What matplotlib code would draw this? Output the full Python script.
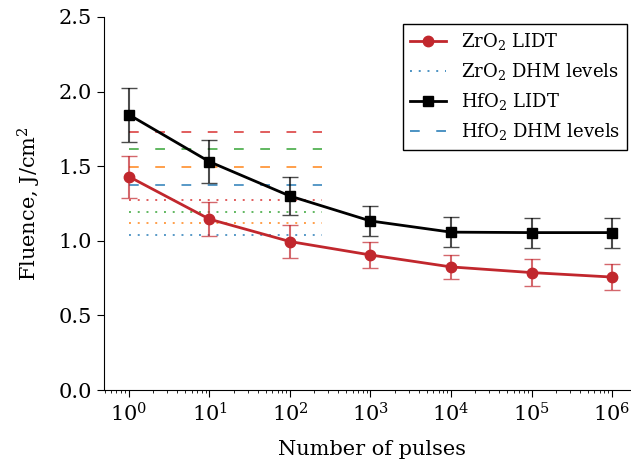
import numpy as np
import matplotlib
matplotlib.use("Agg")
import matplotlib.pyplot as plt

# --- Data ---
pulses = [1, 10, 100, 1000, 1e4, 1e5, 1e6]

zro2_lidt = [1.43, 1.145, 0.995, 0.905, 0.825, 0.787, 0.757]
zro2_err = [0.14, 0.115, 0.11, 0.09, 0.08, 0.09, 0.09]

hfo2_lidt = [1.845, 1.530, 1.300, 1.133, 1.058, 1.055, 1.055]
hfo2_err = [0.18, 0.145, 0.13, 0.10, 0.10, 0.10, 0.10]

# DHM damage levels (horizontal guides from 1 to ~250 pulses)
level_span = [1, 250]
zro2_levels = [1.039, 1.119, 1.193, 1.273]
hfo2_levels = [1.374, 1.495, 1.615, 1.729]
level_colors = ["tab:blue", "tab:orange", "tab:green", "tab:red"]

RED = "#c1272d"
DOT = (0, (1, 3.5))
DASH = (0, (5, 8.5))

plt.rcParams["font.family"] = "DejaVu Serif"
plt.rcParams["mathtext.fontset"] = "dejavuserif"
plt.rcParams["font.size"] = 15

fig = plt.figure(figsize=(6.31, 4.66), dpi=100)
ax = fig.add_axes([104 / 631, 76 / 466, 537 / 631, 373 / 466])

for lvl, c in zip(zro2_levels, level_colors):
    ax.plot(level_span, [lvl, lvl], linestyle=DOT, color=c, alpha=0.75, lw=1.4)
for lvl, c in zip(hfo2_levels, level_colors):
    ax.plot(level_span, [lvl, lvl], linestyle=DASH, color=c, alpha=0.75, lw=1.4)

ax.errorbar(pulses, zro2_lidt, yerr=zro2_err, color=RED, marker="o", ms=7.5,
            lw=2, capsize=6, elinewidth=1.5, ecolor=(0.76, 0.15, 0.18, 0.7), zorder=5)
ax.errorbar(pulses, hfo2_lidt, yerr=hfo2_err, color="black", marker="s", ms=7.5,
            lw=2, capsize=6, elinewidth=1.5, ecolor=(0, 0, 0, 0.7), zorder=6)

ax.set_xscale("log")
ax.set_xlim(10 ** -0.31, 10 ** 6.36)
ax.set_ylim(0, 2.5)
ax.set_xticks(pulses)
ax.tick_params(which="major", length=5)
ax.spines["top"].set_visible(False)
ax.spines["right"].set_visible(False)
ax.set_xlabel("Number of pulses", labelpad=11)
ax.set_ylabel("Fluence, J/cm$^2$", labelpad=11)

# legend handles
h1 = plt.Line2D([], [], color=RED, marker="o", ms=7.5, lw=2)
h2 = plt.Line2D([], [], color="tab:blue", linestyle=DOT, lw=1.4, alpha=0.8)
h3 = plt.Line2D([], [], color="black", marker="s", ms=7.5, lw=2)
h4 = plt.Line2D([], [], color="tab:blue", linestyle=DASH, lw=1.4, alpha=0.8)
leg = ax.legend([h1, h2, h3, h4],
                ["ZrO$_2$ LIDT", "ZrO$_2$ DHM levels", "HfO$_2$ LIDT", "HfO$_2$ DHM levels"],
                loc="upper right", bbox_to_anchor=(627 / 631, 442 / 466),
                bbox_transform=fig.transFigure, borderaxespad=0, fancybox=False,
                framealpha=1, edgecolor="black", fontsize=13)
leg.get_frame().set_linewidth(1.0)

fig.savefig("out.png", dpi=100)
